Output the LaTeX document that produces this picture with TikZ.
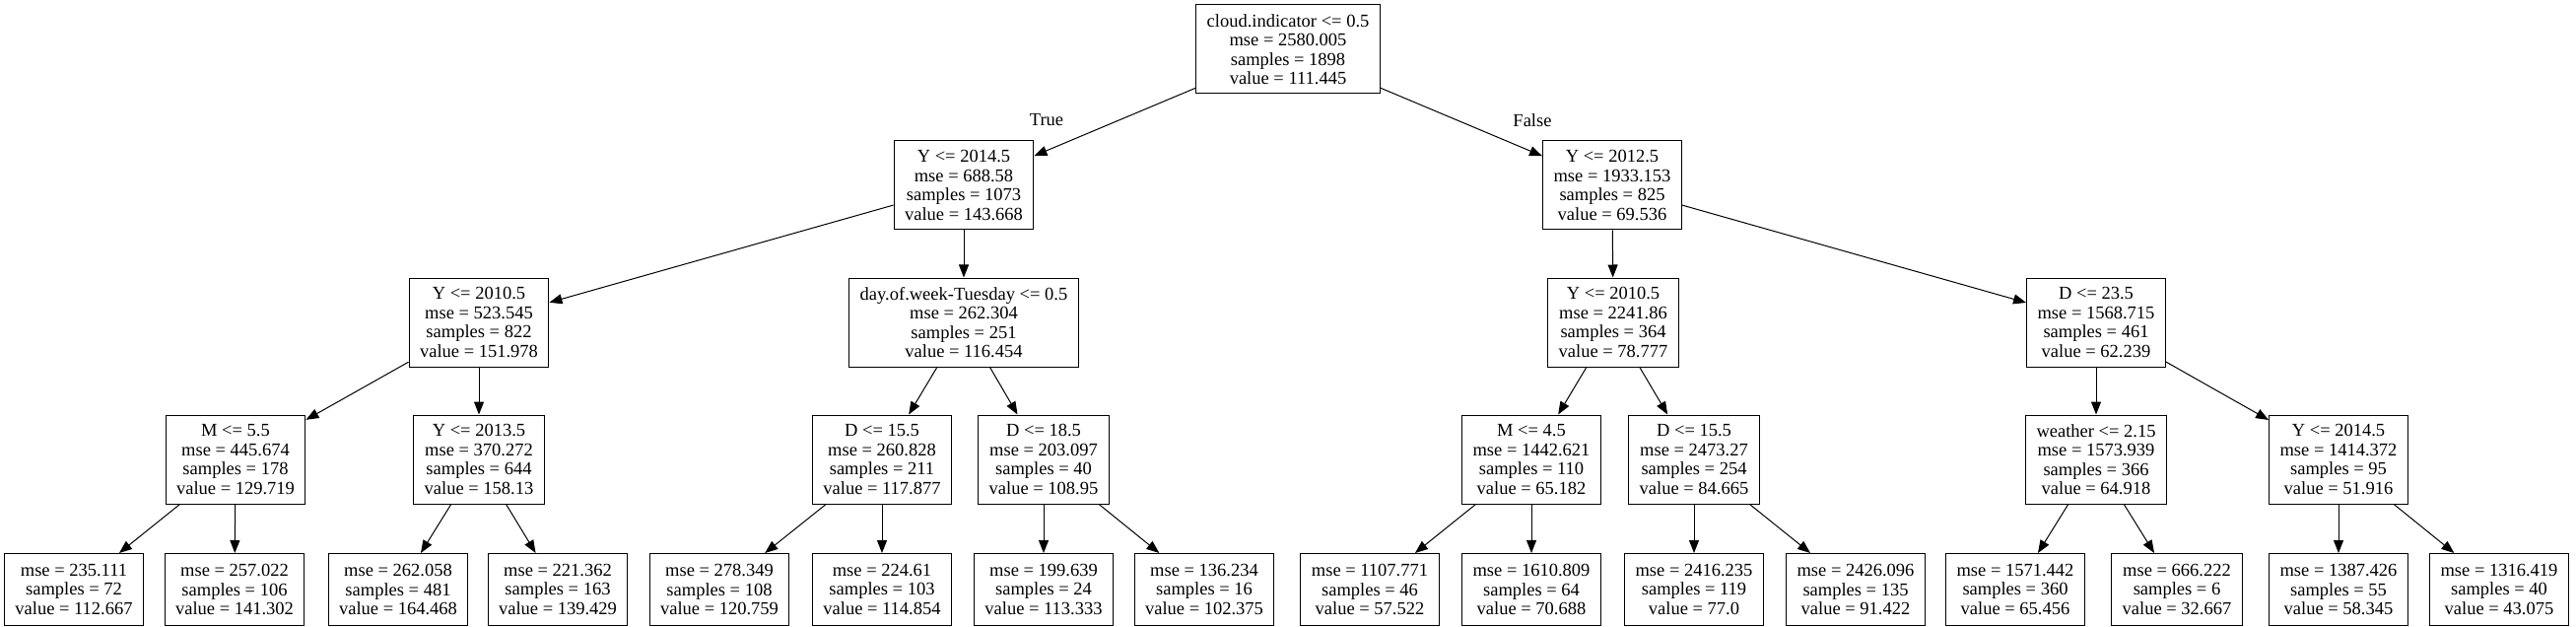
\documentclass[tikz,border=0pt]{standalone}
\usepackage{fontspec}
\setmainfont{Liberation Serif}
\usetikzlibrary{arrows.meta}

\begin{document}
\begin{tikzpicture}[x=1pt, y=-1pt,
    split/.style={rectangle, draw, line width=1pt, minimum height=90pt, inner xsep=11pt, align=center, font=\fontsize{18.5}{19.5}\selectfont},
    leaf/.style={split, minimum height=73pt},
    branch/.style={font=\fontsize{18.5}{19.5}\selectfont},
    edge/.style={-{Triangle[length=13pt, width=10pt]}, line width=1pt}]

    \useasboundingbox (0,0) rectangle (2614,636);

    % root and first split
    \node[split] (root) at (1307,50) {cloud.indicator <= 0.5\\ mse = 2580.005\\ samples = 1898\\ value = 111.445};
    \node[split] (yt) at (978,188) {Y <= 2014.5\\ mse = 688.58\\ samples = 1073\\ value = 143.668};
    \node[split] (yf) at (1636,188) {Y <= 2012.5\\ mse = 1933.153\\ samples = 825\\ value = 69.536};

    % second level
    \node[split] (ya) at (486,327) {Y <= 2010.5\\ mse = 523.545\\ samples = 822\\ value = 151.978};
    \node[split] (dow) at (978,327) {day.of.week-Tuesday <= 0.5\\ mse = 262.304\\ samples = 251\\ value = 116.454};
    \node[split] (yc) at (1637,327) {Y <= 2010.5\\ mse = 2241.86\\ samples = 364\\ value = 78.777};
    \node[split] (dd) at (2127,327) {D <= 23.5\\ mse = 1568.715\\ samples = 461\\ value = 62.239};

    % third level
    \node[split] (ma) at (239,466) {M <= 5.5\\ mse = 445.674\\ samples = 178\\ value = 129.719};
    \node[split] (yb) at (486,466) {Y <= 2013.5\\ mse = 370.272\\ samples = 644\\ value = 158.13};
    \node[split] (da) at (895,466) {D <= 15.5\\ mse = 260.828\\ samples = 211\\ value = 117.877};
    \node[split] (db) at (1059,466) {D <= 18.5\\ mse = 203.097\\ samples = 40\\ value = 108.95};
    \node[split] (mc) at (1554,466) {M <= 4.5\\ mse = 1442.621\\ samples = 110\\ value = 65.182};
    \node[split] (dc) at (1719,466) {D <= 15.5\\ mse = 2473.27\\ samples = 254\\ value = 84.665};
    \node[split] (wd) at (2127,466) {weather <= 2.15\\ mse = 1573.939\\ samples = 366\\ value = 64.918};
    \node[split] (yd) at (2373,466) {Y <= 2014.5\\ mse = 1414.372\\ samples = 95\\ value = 51.916};

    % leaves
    \node[leaf] (l1) at (75,598) {mse = 235.111\\ samples = 72\\ value = 112.667};
    \node[leaf] (l2) at (238,598) {mse = 257.022\\ samples = 106\\ value = 141.302};
    \node[leaf] (l3) at (404,598) {mse = 262.058\\ samples = 481\\ value = 164.468};
    \node[leaf] (l4) at (566,598) {mse = 221.362\\ samples = 163\\ value = 139.429};
    \node[leaf] (l5) at (730,598) {mse = 278.349\\ samples = 108\\ value = 120.759};
    \node[leaf] (l6) at (895,598) {mse = 224.61\\ samples = 103\\ value = 114.854};
    \node[leaf] (l7) at (1059,598) {mse = 199.639\\ samples = 24\\ value = 113.333};
    \node[leaf] (l8) at (1222,598) {mse = 136.234\\ samples = 16\\ value = 102.375};
    \node[leaf] (l9) at (1390,598) {mse = 1107.771\\ samples = 46\\ value = 57.522};
    \node[leaf] (l10) at (1554,598) {mse = 1610.809\\ samples = 64\\ value = 70.688};
    \node[leaf] (l11) at (1719,598) {mse = 2416.235\\ samples = 119\\ value = 77.0};
    \node[leaf] (l12) at (1883,598) {mse = 2426.096\\ samples = 135\\ value = 91.422};
    \node[leaf] (l13) at (2045,598) {mse = 1571.442\\ samples = 360\\ value = 65.456};
    \node[leaf] (l14) at (2209,598) {mse = 666.222\\ samples = 6\\ value = 32.667};
    \node[leaf] (l15) at (2373,598) {mse = 1387.426\\ samples = 55\\ value = 58.345};
    \node[leaf] (l16) at (2536,598) {mse = 1316.419\\ samples = 40\\ value = 43.075};

    % branch labels
    \node[branch] (true) at (1062,122) {True};
    \node[branch] (false) at (1555,122) {False};

    % edges
    \draw[edge] (root) -- (yt);
    \draw[edge] (root) -- (yf);
    \draw[edge] (yt) -- (ya);
    \draw[edge] (yt) -- (dow);
    \draw[edge] (yf) -- (yc);
    \draw[edge] (yf) -- (dd);
    \draw[edge] (ya) -- (ma);
    \draw[edge] (ya) -- (yb);
    \draw[edge] (dow) -- (da);
    \draw[edge] (dow) -- (db);
    \draw[edge] (yc) -- (mc);
    \draw[edge] (yc) -- (dc);
    \draw[edge] (dd) -- (wd);
    \draw[edge] (dd) -- (yd);
    \draw[edge] (ma) -- (l1);
    \draw[edge] (ma) -- (l2);
    \draw[edge] (yb) -- (l3);
    \draw[edge] (yb) -- (l4);
    \draw[edge] (da) -- (l5);
    \draw[edge] (da) -- (l6);
    \draw[edge] (db) -- (l7);
    \draw[edge] (db) -- (l8);
    \draw[edge] (mc) -- (l9);
    \draw[edge] (mc) -- (l10);
    \draw[edge] (dc) -- (l11);
    \draw[edge] (dc) -- (l12);
    \draw[edge] (wd) -- (l13);
    \draw[edge] (wd) -- (l14);
    \draw[edge] (yd) -- (l15);
    \draw[edge] (yd) -- (l16);

\end{tikzpicture}
\end{document}
